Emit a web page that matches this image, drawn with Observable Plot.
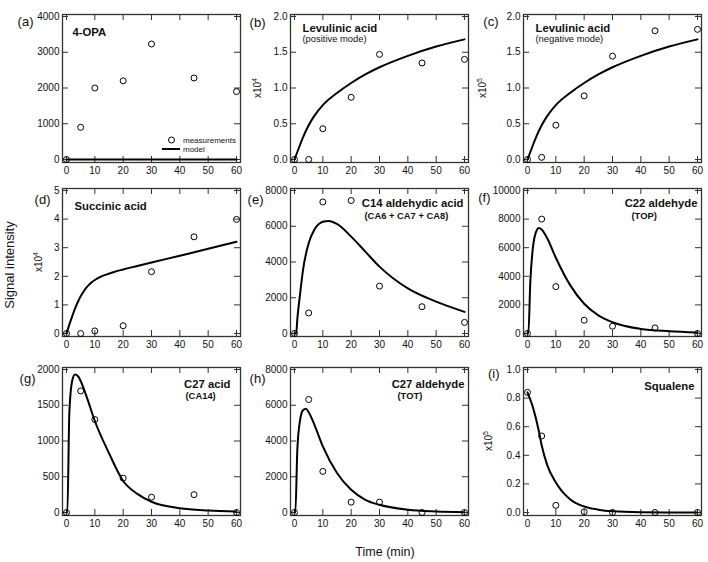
<!DOCTYPE html>
<html><head><meta charset="utf-8">
<script src="https://cdn.jsdelivr.net/npm/d3@7"></script>
<script src="https://cdn.jsdelivr.net/npm/@observablehq/plot@0.6"></script>
<style>
body{margin:0;background:#fff;font-family:"Liberation Sans",Arial,Helvetica,sans-serif;}
#chart{position:relative;width:708px;height:562px;overflow:hidden;background:#fff;}
.pnl{position:absolute;}
.axt{position:absolute;color:#111;white-space:nowrap;font-size:13px;}
</style></head><body><div id="chart"></div>
<script>
// ---------- data ----------
const measT = [0, 5, 10, 20, 30, 45, 60];
const xTicks = [0, 10, 20, 30, 40, 50, 60];

const aMeas = [0, 900, 2000, 2200, 3230, 2280, 1900];
const aModelT = [0, 60];
const aModel = [0, 0];

const bMeas = [0, 0, 0.43, 0.87, 1.47, 1.35, 1.40];
const bModelT = [0, 1, 2, 3, 5, 7, 10, 15, 20, 25, 30, 40, 50, 60];
const bModel = [0, 0.105, 0.21, 0.31, 0.48, 0.61, 0.76, 0.93, 1.07, 1.19, 1.29, 1.45, 1.58, 1.68];

const cMeas = [0, 0.03, 0.48, 0.89, 1.445, 1.80, 1.82];
const cModelT = [0, 1, 2, 3, 5, 7, 10, 15, 20, 25, 30, 40, 50, 60];
const cModel = [0, 0.105, 0.21, 0.31, 0.48, 0.61, 0.76, 0.93, 1.07, 1.19, 1.29, 1.45, 1.58, 1.68];

const dMeas = [0, 0, 0.09, 0.27, 2.16, 3.38, 3.99];
const dModelT = [0, 1, 2, 3, 4, 5, 6, 7, 8, 9, 10, 12, 14, 17, 20, 25, 30, 40, 50, 60];
const dModel = [0, 0.31, 0.6, 0.87, 1.1, 1.3, 1.46, 1.6, 1.71, 1.8, 1.87, 1.98, 2.06, 2.16, 2.24, 2.36, 2.48, 2.72, 2.96, 3.21];

const eMeas = [0, 1150, 7360, 7440, 2650, 1500, 620];
const eModelT = [0, 0.6, 1, 2, 3, 5, 7, 10, 12, 15, 20, 25, 30, 40, 50, 60];
const eModel = [0, 0, 800, 2250, 3550, 5050, 5800, 6250, 6300, 6130, 5420, 4580, 3740, 2520, 1780, 1210];

const fMeas = [0, 8000, 3280, 925, 510, 390, 0];
const fModelT = [0, 0.3, 1, 2, 3, 4, 5, 7, 10, 15, 20, 25, 30, 40, 50, 60];
const fModel = [0, 0, 3630, 6170, 7100, 7380, 7280, 6640, 5300, 3400, 2080, 1270, 790, 320, 160, 70];

const gMeas = [0, 1700, 1300, 480, 215, 250, 0];
const gModelT = [0, 0.3, 1, 2, 3, 4, 5, 7, 10, 15, 20, 25, 30, 40, 50, 60];
const gModel = [0, 0, 1390, 1840, 1930, 1910, 1840, 1630, 1280, 830, 440, 260, 150, 60, 28, 14];

const hMeas = [0, 6320, 2300, 580, 580, 0, 0];
const hModelT = [0, 0.3, 1, 2, 3, 4, 5, 7, 10, 15, 20, 25, 30, 40, 50, 60];
const hModel = [0, 0, 3510, 5200, 5720, 5800, 5610, 4920, 3700, 2210, 1270, 710, 430, 150, 56, 19];

const iMeas = [0.84, 0.535, 0.05, 0.005, 0, 0, 0];
const iModelT = [0, 2, 4, 5, 7, 10, 15, 20, 25, 30, 40, 50, 60];
const iModel = [0.84, 0.73, 0.57, 0.47, 0.33, 0.21, 0.093, 0.042, 0.02, 0.009, 0.002, 0.0005, 0];

const ticks4000 = [0, 1000, 2000, 3000, 4000];
const ticks2 = [0, 0.5, 1, 1.5, 2];
const ticks5 = [0, 1, 2, 3, 4, 5];
const ticks8000 = [0, 2000, 4000, 6000, 8000];
const ticks10000 = [0, 2000, 4000, 6000, 8000, 10000];
const ticks2000 = [0, 500, 1000, 1500, 2000];
const ticks1 = [0, 0.2, 0.4, 0.6, 0.8, 1];

const tags = ["(a)", "(b)", "(c)", "(d)", "(e)", "(f)", "(g)", "(h)", "(i)"];
const titles = ["4-OPA", "Levulinic acid", "Levulinic acid", "Succinic acid", "C14 aldehydic acid", "C22 aldehyde", "C27 acid", "C27 aldehyde", "Squalene"];
const subtitles = ["", "(positive mode)", "(negative mode)", "", "(CA6 + CA7 + CA8)", "(TOP)", "(CA14)", "(TOT)", ""];
const exponents = ["", "4", "5", "4", "", "", "", "", "5"];
const legendLabels = ["measurements", "model"];
const xLabel = "Time (min)";
const yLabel = "Signal intensity";

// ---------- layout ----------
const colLeft = [62, 290, 523], rowTop = [13.5, 187.5, 367];
const FW = 178, FH = 148, ML = 62, MT = 14, MR = 10, MB = 24;
const INK = "#111", FRAME = "#333";
const FONT = '"Liberation Sans",Arial,Helvetica,sans-serif';

const f1 = d3.format(".1f"), f0 = d3.format("d");
const panels = [
  {meas: aMeas, mt: aModelT, mv: aModel, ticks: ticks4000, fmt: f0, tagDx: -29, tagDy: 2.5, tAlign: "left", tDx: 10, tDy: 13.5, expDx: 0, legend: true},
  {meas: bMeas, mt: bModelT, mv: bModel, ticks: ticks2, fmt: f1, tagDx: -25, tagDy: 3, tAlign: "left", tDx: 12, tDy: 9.5, sDx: 12, sDy: 21, subBold: false, expDx: -33},
  {meas: cMeas, mt: cModelT, mv: cModel, ticks: ticks2, fmt: f1, tagDx: -25, tagDy: 2.5, tAlign: "left", tDx: 12, tDy: 9.5, sDx: 12, sDy: 21, subBold: false, expDx: -41},
  {meas: dMeas, mt: dModelT, mv: dModel, ticks: ticks5, fmt: f0, tagDx: -12, tagDy: 6.5, tAlign: "left", tDx: 12, tDy: 13.5, expDx: -24},
  {meas: eMeas, mt: eModelT, mv: eModel, ticks: ticks8000, fmt: f0, tagDx: -27, tagDy: 6.5, tAlign: "right", tDx: -5, tDy: 10.5, sDx: 74, sDy: 23.5, subBold: true},
  {meas: fMeas, mt: fModelT, mv: fModel, ticks: ticks10000, fmt: f0, tagDx: -33, tagDy: 4.5, tAlign: "right", tDx: -4, tDy: 10.5, sDx: 108, sDy: 23.5, subBold: true},
  {meas: gMeas, mt: gModelT, mv: gModel, ticks: ticks2000, fmt: f0, tagDx: -27, tagDy: 6, tAlign: "right", tDx: -10, tDy: 12, sDx: 123, sDy: 25, subBold: true},
  {meas: hMeas, mt: hModelT, mv: hModel, ticks: ticks8000, fmt: f0, tagDx: -25, tagDy: 6, tAlign: "right", tDx: -4, tDy: 12, sDx: 107, sDy: 25, subBold: true},
  {meas: iMeas, mt: iModelT, mv: iModel, ticks: ticks1, fmt: f1, tagDx: -24, tagDy: 1.5, tAlign: "right", tDx: -7, tDy: 14, expDx: -35}
];

function expMark(exp, dx) {
  return () => {
    const t = d3.create("svg:text")
      .attr("transform", `translate(${ML + dx + 4},${MT + FH / 2}) rotate(-90)`)
      .attr("text-anchor", "middle").attr("font-size", 10).attr("fill", INK)
      .attr("font-family", FONT);
    t.append("tspan").text("x10");
    t.append("tspan").attr("dy", -4.5).attr("font-size", 7).text(exp);
    return t.node();
  };
}
function legendMark() {
  return () => {
    const g = d3.create("svg:g").attr("font-family", FONT).attr("font-size", 8).attr("fill", INK).attr("text-anchor", "start");
    const cx = ML + 109.5, cy = MT + 126, ly = MT + 135;
    g.append("circle").attr("cx", cx).attr("cy", cy).attr("r", 3).attr("fill", "none").attr("stroke", "#000");
    g.append("text").attr("x", ML + 121).attr("y", cy).attr("dy", "0.32em").attr("text-anchor", "start").text(legendLabels[0]);
    g.append("line").attr("x1", ML + 100).attr("x2", ML + 118).attr("y1", ly).attr("y2", ly).attr("stroke", "#000").attr("stroke-width", 2);
    g.append("text").attr("x", ML + 121).attr("y", ly).attr("dy", "0.32em").attr("text-anchor", "start").text(legendLabels[1]);
    return g.node();
  };
}

const chart = document.getElementById("chart");
panels.forEach((p, k) => {
  const col = k % 3, row = Math.floor(k / 3);
  const yMax = p.ticks[p.ticks.length - 1];
  const measRows = measT.map((t, j) => ({t, v: p.meas[j]}));
  const modelRows = p.mt.map((t, j) => ({t, v: p.mv[j]}));
  const marks = [
    Plot.frame({stroke: FRAME, strokeWidth: 1.3}),
    Plot.tickX(xTicks, {x: d => d, insetBottom: FH - 6, stroke: FRAME, strokeWidth: 1}),
    Plot.tickX(xTicks, {x: d => d, insetTop: FH - 6, stroke: FRAME, strokeWidth: 1}),
    Plot.tickY(p.ticks, {y: d => d, insetRight: FW - 6, stroke: FRAME, strokeWidth: 1}),
    Plot.tickY(p.ticks, {y: d => d, insetLeft: FW - 6, stroke: FRAME, strokeWidth: 1}),
    Plot.line(modelRows, {x: "t", y: "v", stroke: "#000", strokeWidth: 2, curve: "monotone-x"}),
    Plot.dot(measRows, {x: "t", y: "v", r: 3, stroke: "#000", strokeWidth: 1, fill: "none"}),
    Plot.text([tags[k]], {frameAnchor: "top-left", text: d => d, dx: p.tagDx, dy: p.tagDy, textAnchor: "end", fontSize: 13, fill: INK}),
    Plot.text([titles[k]], {frameAnchor: p.tAlign === "left" ? "top-left" : "top-right", text: d => d, dx: p.tDx, dy: p.tDy,
      textAnchor: p.tAlign === "left" ? "start" : "end", fontSize: 11.3, fontWeight: "bold", fill: INK})
  ];
  if (subtitles[k]) marks.push(Plot.text([subtitles[k]], {frameAnchor: "top-left", text: d => d, dx: p.sDx, dy: p.sDy,
    textAnchor: "start", fontSize: 9.4, fontWeight: p.subBold ? "bold" : "normal", fill: INK}));
  if (exponents[k]) marks.push(expMark(exponents[k], p.expDx));
  if (p.legend) marks.push(legendMark());
  const svg = Plot.plot({
    width: ML + FW + MR, height: MT + FH + MB,
    marginLeft: ML, marginTop: MT, marginRight: MR, marginBottom: MB,
    style: {background: "transparent", overflow: "visible", fontFamily: FONT, fontSize: "10px", color: INK},
    x: {domain: [-1.41, 61.41], ticks: xTicks, tickSize: 0, tickPadding: 4, label: null, tickFormat: f0},
    y: {domain: [-yMax * 3 / 143, yMax * (1 + 2 / 143)], ticks: p.ticks, tickSize: 0, tickPadding: 3, label: null, tickFormat: p.fmt},
    marks
  });
  svg.classList.add("pnl");
  svg.style.left = (colLeft[col] - ML) + "px";
  svg.style.top = (rowTop[row] - MT) + "px";
  chart.appendChild(svg);
});

const xl = document.createElement("div");
xl.className = "axt"; xl.textContent = xLabel; xl.style.fontSize = "12.5px";
xl.style.left = "385px"; xl.style.top = "552px"; xl.style.transform = "translate(-50%,-50%)";
chart.appendChild(xl);
const yl = document.createElement("div");
yl.className = "axt"; yl.textContent = yLabel;
yl.style.left = "9px"; yl.style.top = "265px"; yl.style.transform = "translate(-50%,-50%) rotate(-90deg)";
chart.appendChild(yl);
</script></body></html>
